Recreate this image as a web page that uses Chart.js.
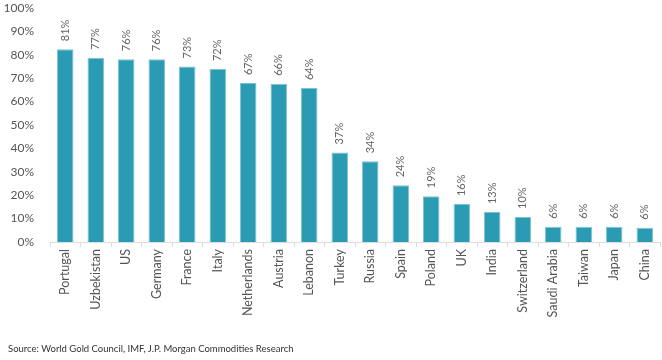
<!DOCTYPE html>
<html>
<head>
<meta charset="utf-8">
<script src="https://cdn.jsdelivr.net/npm/chart.js@4"></script>
<style>
  html, body { margin: 0; padding: 0; background: #fff; }
  #wrap { width: 662px; height: 360px; position: relative; }
  #source {
    position: absolute; left: 8px; top: 343px;
    font: 9.5px/12px Lato, "Open Sans", sans-serif; color: #333;
  }
</style>
</head>
<body>
<div id="wrap">
  <canvas id="bar"></canvas>
  <div id="source">Source: World Gold Council, IMF, J.P. Morgan Commodities Research</div>
</div>
<script>
// countries, bar heights and the printed labels
const countries = ["Portugal", "Uzbekistan", "US", "Germany", "France", "Italy", "Netherlands", "Austria", "Lebanon", "Turkey",
  "Russia", "Spain", "Poland", "UK", "India", "Switzerland", "Saudi Arabia", "Taiwan", "Japan", "China"];
const shares = [82.4, 78.7, 78.1, 78.1, 75.0, 73.9, 67.9, 67.6, 65.8, 38.3,
  34.5, 24.3, 19.6, 16.2, 12.8, 10.7, 6.5, 6.5, 6.5, 6.1];
const shareLabels = ["81%", "77%", "76%", "76%", "73%", "72%", "67%", "66%", "64%", "37%",
  "34%", "24%", "19%", "16%", "13%", "10%", "6%", "6%", "6%", "6%"];
const yTicks = [0, 10, 20, 30, 40, 50, 60, 70, 80, 90, 100];

const FONT = "Lato, 'Open Sans', sans-serif";

// rotated value labels above each bar
const barLabels = {
  id: "barLabels",
  afterDatasetsDraw(chart) {
    const ctx = chart.ctx;
    const meta = chart.getDatasetMeta(0);
    ctx.save();
    ctx.font = "11px " + FONT;
    ctx.fillStyle = "#666";
    ctx.textAlign = "left";
    ctx.textBaseline = "middle";
    meta.data.forEach((bar, i) => {
      ctx.save();
      ctx.translate(bar.x, bar.y - 8);
      ctx.rotate(-Math.PI / 2);
      ctx.fillText(shareLabels[i], 0, 0);
      ctx.restore();
    });
    ctx.restore();
  }
};

new Chart(document.getElementById("bar"), {
  type: "bar",
  data: {
    labels: countries,
    datasets: [{
      data: shares,
      backgroundColor: "#2b9bb4",
      borderColor: "#7cc3d2",
      borderWidth: { top: 1, left: 1, right: 1, bottom: 0 },
      barPercentage: 0.54,
      categoryPercentage: 1
    }]
  },
  options: {
    responsive: true,
    maintainAspectRatio: false,
    animation: false,
    layout: { padding: { left: 0, right: 2, top: 0, bottom: 36 } },
    plugins: {
      legend: { display: false },
      tooltip: { enabled: false }
    },
    scales: {
      x: {
        afterFit(scale) { scale.height = 82; },
        grid: { display: true, offset: true, drawOnChartArea: false, color: "#ddd", tickLength: 5 },
        border: { display: true, color: "#ddd" },
        ticks: {
          color: "#555",
          font: { family: FONT, size: 12.5 },
          autoSkip: false,
          minRotation: 90,
          maxRotation: 90,
          padding: 2
        }
      },
      y: {
        min: 0,
        max: 100,
        afterBuildTicks(scale) { scale.ticks = yTicks.map(v => ({ value: v })); },
        afterFit(scale) {
          scale.width = 50;
          scale.paddingTop = 8;
          scale.paddingBottom = 0;
        },
        grid: { display: false, drawTicks: false },
        border: { display: false },
        ticks: {
          color: "#555",
          font: { family: FONT, size: 12 },
          padding: 16,
          callback: v => v + "%"
        }
      }
    }
  },
  plugins: [barLabels]
});
</script>
</body>
</html>
